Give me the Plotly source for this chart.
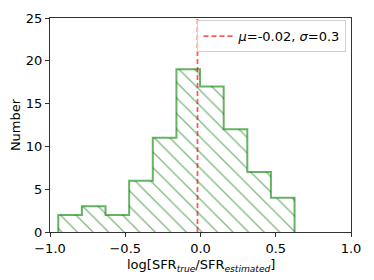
import plotly.graph_objects as go

bin_edges = [-0.945, -0.788, -0.631, -0.474, -0.317, -0.160, -0.003, 0.154, 0.311, 0.468, 0.625]
counts = [2, 3, 2, 6, 11, 19, 17, 12, 7, 4]
mu = -0.02
sigma = 0.3
x_ticks = [-1.0, -0.5, 0.0, 0.5, 1.0]
y_ticks = [0, 5, 10, 15, 20, 25]
x_title = "log[SFR<sub><i>true</i></sub>/SFR<sub><i>estimated</i></sub>]"
y_title = "Number"

centers = [(a + b) / 2 for a, b in zip(bin_edges[:-1], bin_edges[1:])]
widths = [b - a for a, b in zip(bin_edges[:-1], bin_edges[1:])]

# step outline from the histogram data
sx = [bin_edges[0]]
sy = [0]
for i, c in enumerate(counts):
    sx += [bin_edges[i], bin_edges[i + 1]]
    sy += [c, c]
sx.append(bin_edges[-1])
sy.append(0)

fig = go.Figure()
fig.add_trace(go.Bar(
    x=centers, y=counts, width=widths,
    marker=dict(color="rgba(255,255,255,0)", line=dict(width=0),
                pattern=dict(shape="\\", fgcolor="#006e00", bgcolor="rgba(255,255,255,0)",
                             size=11, solidity=0.12, fillmode="overlay")),
    showlegend=False, hoverinfo="skip"))
fig.add_trace(go.Scatter(x=sx, y=sy, mode="lines",
                         line=dict(color="rgba(0,128,0,0.6)", width=2),
                         showlegend=False, hoverinfo="skip"))
fig.add_trace(go.Scatter(x=[mu, mu], y=[0, 25], mode="lines",
                         line=dict(color="rgba(255,0,0,0.65)", width=1.8, dash="5px,3px"),
                         name=f"<i>μ</i>={mu}, <i>σ</i>={sigma}"))

fig.update_layout(
    width=366, height=272,
    margin=dict(l=42, r=23, t=10, b=48, autoexpand=False),
    plot_bgcolor="white", paper_bgcolor="white",
    font=dict(family="DejaVu Sans", size=13, color="black"),
    bargap=0, showlegend=True,
    legend=dict(x=0.985, y=0.99, xanchor="right", yanchor="top",
                bgcolor="rgba(255,255,255,0.8)", bordercolor="#d0d0d0", borderwidth=1,
                font=dict(size=13), itemwidth=30),
    xaxis=dict(range=[-1, 1], tickvals=x_ticks, tickformat=".1f", automargin=False,
               showline=True, mirror=True, linecolor="#333", linewidth=1,
               ticks="outside", ticklen=4, tickcolor="#333", showgrid=False, zeroline=False),
    yaxis=dict(range=[0, 25], tickvals=y_ticks, automargin=False,
               showline=True, mirror=True, linecolor="#333", linewidth=1,
               ticks="outside", ticklen=4, tickcolor="#333", showgrid=False, zeroline=False,
               title=dict(text=y_title, standoff=4, font=dict(size=13))),
    annotations=[dict(text=x_title, xref="paper", yref="paper", x=0.5, y=-0.155,
                      xanchor="center", yanchor="middle", showarrow=False,
                      font=dict(size=13))],
)
fig.write_html("out.html")
